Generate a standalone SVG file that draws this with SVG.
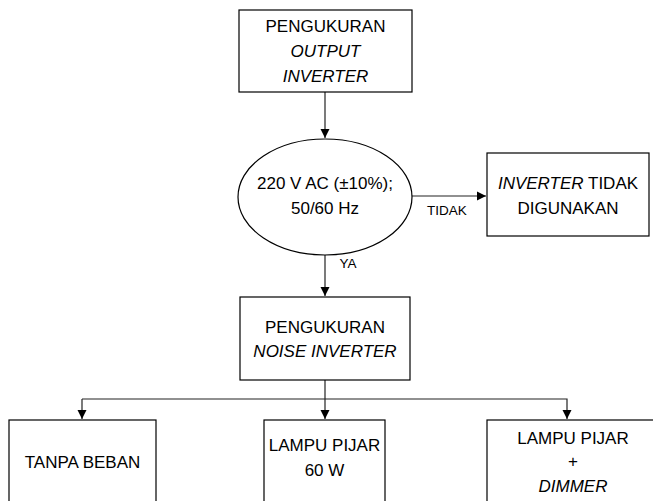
<svg xmlns="http://www.w3.org/2000/svg" width="653" height="501" viewBox="0 0 653 501">
<style>
.box{fill:#fff;stroke:#000;stroke-width:1.2}
.t{font-family:"Liberation Sans",Arial,sans-serif;font-size:17px;fill:#000;text-anchor:middle}
.s{font-size:13.5px}
.i{font-style:italic}
.c{fill:none;stroke:#222;stroke-width:1.2}
</style>
<defs>
<marker id="ah" markerWidth="10" markerHeight="10" refX="9" refY="5" orient="auto" markerUnits="userSpaceOnUse">
<path d="M0,0.5 L9,5 L0,9.5 Z" fill="#000"/>
</marker>
</defs>
<rect width="653" height="501" fill="#fff"/>
<g id="connectors">
<line class="c" x1="325" y1="92" x2="325" y2="138" marker-end="url(#ah)"/>
<line class="c" x1="412" y1="196" x2="486" y2="196" marker-end="url(#ah)"/>
<line class="c" x1="325" y1="255" x2="325" y2="296" marker-end="url(#ah)"/>
<polyline class="c" points="325,380 325,399"/>
<polyline class="c" points="82,399 567,399 567,419" marker-end="url(#ah)"/>
<line class="c" x1="82" y1="399" x2="82" y2="419" marker-end="url(#ah)"/>
<line class="c" x1="325" y1="399" x2="325" y2="419" marker-end="url(#ah)"/>
<text class="t s" x="447" y="215">TIDAK</text>
<text class="t s" x="348" y="268">YA</text>
</g>
<g id="n1">
<rect class="box" x="239" y="10" width="173" height="82"/>
<text class="t" x="325.5" y="32">PENGUKURAN</text>
<text class="t i" x="325.5" y="57">OUTPUT</text>
<text class="t i" x="325.5" y="82">INVERTER</text>
</g>
<g id="n2">
<ellipse class="box" cx="325" cy="197" rx="87" ry="58"/>
<text class="t" x="325" y="189">220 V AC (±10%);</text>
<text class="t" x="325" y="214">50/60 Hz</text>
</g>
<g id="n3">
<rect class="box" x="487" y="153" width="162" height="83"/>
<text class="t" x="568" y="189"><tspan class="i">INVERTER</tspan> TIDAK</text>
<text class="t" x="568" y="214">DIGUNAKAN</text>
</g>
<g id="n4">
<rect class="box" x="240" y="297" width="170" height="83"/>
<text class="t" x="325" y="333">PENGUKURAN</text>
<text class="t i" x="325" y="357">NOISE INVERTER</text>
</g>
<g id="n5">
<rect class="box" x="9" y="420" width="147" height="90"/>
<text class="t" x="82.5" y="468">TANPA BEBAN</text>
</g>
<g id="n6">
<rect class="box" x="264" y="420" width="121" height="90"/>
<text class="t" x="324.5" y="451">LAMPU PIJAR</text>
<text class="t" x="324.5" y="476">60 W</text>
</g>
<g id="n7">
<rect class="box" x="487" y="420" width="175" height="90"/>
<text class="t" x="573" y="444">LAMPU PIJAR</text>
<text class="t" x="573" y="467">+</text>
<text class="t i" x="573" y="492">DIMMER</text>
</g>
</svg>
